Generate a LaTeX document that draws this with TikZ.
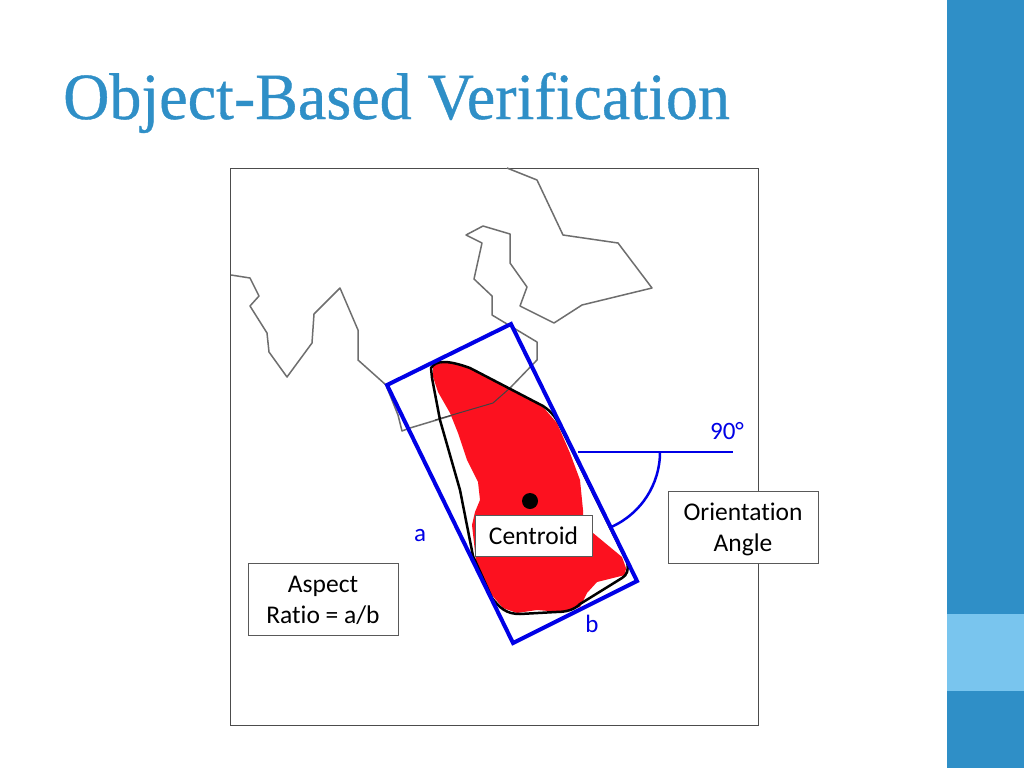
\documentclass[tikz,border=0pt]{standalone}
\usepackage{fontspec}
\setmainfont{Carlito}[Ligatures = CommonOff]
\newfontfamily\titlefont{Liberation Serif}[FakeStretch = 0.97, FakeBold = 0.6]
\definecolor{slideblue}{HTML}{2F8FC7}
\definecolor{slidelight}{HTML}{79C5EE}
\definecolor{boxblue}{HTML}{0000E6}
\definecolor{blobred}{HTML}{FC111F}
\definecolor{mapgrey}{HTML}{6E6E6E}
\newcommand\topgap[1]{\rule{0pt}{#1pt}}
\tikzset{
	labelbox/.style = {draw = black!65, fill = white, line width = 1pt, align = center, inner sep = 0pt, font = \fontsize{25.5}{31}\selectfont},
	bluetext/.style = {text = boxblue, inner sep = 0pt, font = \fontsize{25}{28}\selectfont},
}
\begin{document}
\begin{tikzpicture}[x = 1pt, y = -1pt]
	%	page setup
	\useasboundingbox (0, 0) rectangle (1024, 768);
	\fill[white] (0, 0) rectangle (1024, 768);
	\fill[slideblue] (947, 0) rectangle (1024, 768);
	\fill[slidelight] (947, 614) rectangle (1024, 691);
	\node[text = slideblue, anchor = base west, inner sep = 0pt, font = \titlefont\fontsize{66}{72}\selectfont] (title) at (63, 119) {Object-Based Verification};
	
	%	frame
	\draw[black!70, line width = 1pt] (230, 168) rectangle (758, 725);
	
	%	map
	\draw[mapgrey, line width = 1.5pt, line join = round] (507, 168) -- (537, 180) -- (563, 235) -- (618, 243) -- (652, 288) -- (582, 305) -- (554, 323) -- (520, 306) -- (527, 287) -- (510, 263) -- (510, 234) -- (483, 226) -- (466, 235) -- (482, 243) -- (474, 279) -- (492, 296) -- (492, 315) -- (537, 342) -- (537, 360) -- (510, 388) -- (493, 403) -- (410, 428) -- (402, 431) -- (398, 415) -- (386, 385) -- (358, 360) -- (358, 330) -- (340, 288) -- (314, 314) -- (312, 343) -- (287, 377) -- (269, 352) -- (267, 333) -- (250, 306) -- (259, 296) -- (250, 278) -- (231, 275);
	
	%	object
	\fill[blobred] (433, 365) -- (447, 362) -- (470, 368) -- (507, 388) -- (543, 407) -- (557, 423) -- (570, 453) -- (580, 480) -- (583, 510) -- (584, 533) -- (593, 533) -- (622, 557) -- (626, 568) -- (625, 575) -- (597, 582) -- (587, 593) -- (580, 607) -- (560, 612) -- (537, 610) -- (517, 613) -- (503, 608) -- (490, 593) -- (477, 570) -- (472, 525) -- (475, 512) -- (480, 500) -- (478, 482) -- (467, 460) -- (458, 433) -- (450, 413) -- (438, 392) -- (433, 377) -- cycle;
	\draw[mapgrey!60!black, line width = 1pt] (510, 388) -- (493, 403) -- (435, 420);
	\draw[black, line width = 2.5pt, line join = round] (432, 378) -- (431, 368) .. controls (436, 360) and (448, 360) .. (470, 368) -- (543, 406) .. controls (552, 412) and (556, 418) .. (560, 426) -- (627, 562) .. controls (629, 570) and (627, 575) .. (622, 578) -- (580, 604) .. controls (574, 610) and (566, 612) .. (556, 612) -- (520, 614) .. controls (506, 614) and (500, 608) .. (492, 598) -- (473, 556) -- (460, 490) -- (440, 420) -- cycle;
	
	%	bounding box
	\coordinate (ba) at (387, 385);
	\coordinate (bb) at (511, 324);
	\coordinate (bc) at (637, 581);
	\coordinate (bd) at (513, 643);
	\draw[boxblue, line width = 4pt, line join = miter] (ba) -- (bb) -- (bc) -- (bd) -- cycle;
	
	%	angle
	\coordinate (start) at (578, 452);
	\coordinate (end) at (733, 452);
	\def\r{82}
	\draw[boxblue, line width = 2pt] (start) -- (end);
	\draw[boxblue, line width = 2.5pt] (660, 452) arc[start angle = 0, end angle = 65.5, radius = \r];
	\node[bluetext] (ninety) at (727, 431) {90°};
	
	%	labels
	\node[bluetext] (sidea) at (420, 536) {a};
	\node[bluetext] (sideb) at (592, 624) {b};
	\fill[black] (530, 501) circle[radius = 8];
	\node[labelbox, minimum width = 117pt, minimum height = 41pt] (centroid) at (533.5, 535.5) {Centroid};
	\node[labelbox, minimum width = 150pt, minimum height = 72pt] (aspect) at (323, 599) {\topgap{19}Aspect\\Ratio = a/b};
	\node[labelbox, minimum width = 150pt, minimum height = 72pt] (orientation) at (743, 527) {\topgap{23}Orientation\\Angle};
\end{tikzpicture}
\end{document}
